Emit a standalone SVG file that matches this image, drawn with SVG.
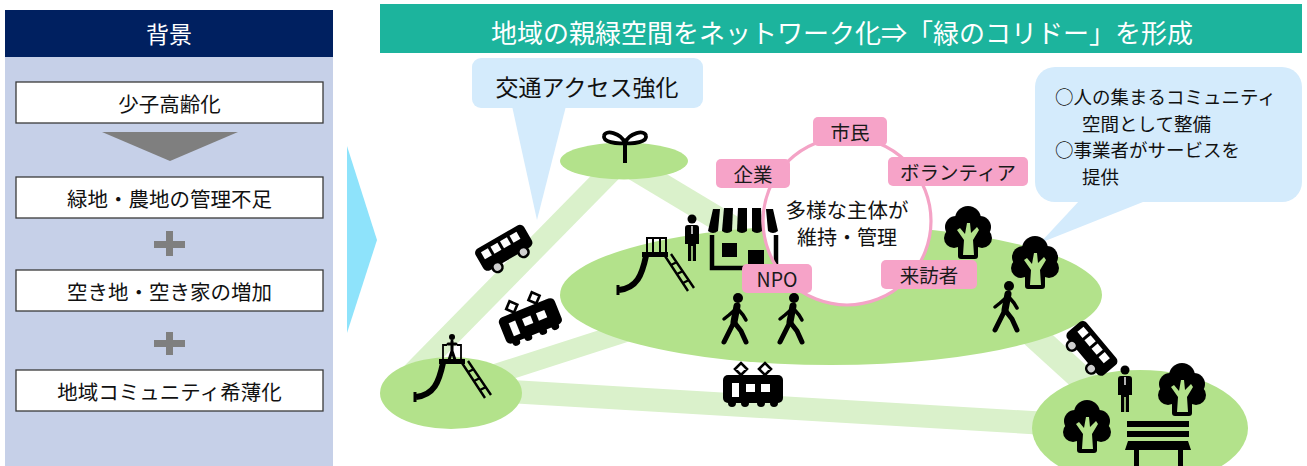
<svg xmlns="http://www.w3.org/2000/svg" width="1307" height="466" viewBox="0 0 1307 466">
  <style>
    text { font-family: "Noto Sans CJK JP", "Noto Sans", sans-serif; }
    .cause { fill: #ffffff; stroke: #3a3a3a; stroke-width: 1.3; }
    .cause-t { font-size: 20.5px; fill: #111; text-anchor: middle; dominant-baseline: central; }
    .gray { fill: #7f7f7f; }
    .corr { stroke: #daf1cb; fill: none; stroke-linecap: butt; }
    .park { fill: #b3e28b; }
    .bubble { fill: #d4ebfc; }
    .tag { fill: #f6a3c8; }
    .tag-t { font-size: 19.5px; fill: #1a1a1a; text-anchor: middle; dominant-baseline: central; }
    .note { font-size: 18.5px; fill: #111; }
  </style>
  <defs>
    <!-- side view bus, facing right -->
    <g id="bus">
      <rect x="-28" y="-15" width="56" height="25" rx="5" fill="#000"/>
      <rect x="-22" y="-10" width="8" height="8" fill="#fff"/>
      <rect x="-11" y="-10" width="8" height="8" fill="#fff"/>
      <rect x="0" y="-10" width="8" height="8" fill="#fff"/>
      <rect x="11" y="-10" width="8" height="8" fill="#fff"/>
      <circle cx="-15" cy="11" r="5" fill="#cfcfcf" stroke="#000" stroke-width="2.6"/>
      <circle cx="15" cy="11" r="5" fill="#cfcfcf" stroke="#000" stroke-width="2.6"/>
    </g>
    <!-- tram with two pantographs -->
    <g id="tram">
      <path d="M-12,-13 L-18,-19 L-12,-25 L-6,-19 Z M12,-13 L6,-19 L12,-25 L18,-19 Z" fill="none" stroke="#000" stroke-width="2.6"/>
      <rect x="-30" y="-13" width="60" height="28" rx="5" fill="#000"/>
      <circle cx="-21" cy="15" r="4" fill="#000"/>
      <circle cx="-8" cy="15" r="4" fill="#000"/>
      <circle cx="8" cy="15" r="4" fill="#000"/>
      <circle cx="21" cy="15" r="4" fill="#000"/>
      <rect x="-21" y="-5" width="7" height="14" fill="#fff"/>
      <rect x="-7" y="-4" width="9" height="8" fill="#fff"/>
      <rect x="8" y="-4" width="9" height="8" fill="#fff"/>
    </g>
    <!-- tree: dark crown, light trunk -->
    <g id="tree">
      <circle cx="0" cy="-14" r="13" fill="#000"/>
      <circle cx="-12" cy="-6" r="11" fill="#000"/>
      <circle cx="12" cy="-6" r="11" fill="#000"/>
      <circle cx="-14" cy="5" r="10" fill="#000"/>
      <circle cx="14" cy="5" r="10" fill="#000"/>
      <circle cx="0" cy="4" r="14" fill="#000"/>
      <rect x="-10" y="10" width="20" height="16" rx="3" fill="#000"/>
      <path d="M-5,22 L-4,7 L-11,-3 L-8,-5 L-3,1 L-1,-10 L2,-10 L3,0 L9,-6 L11,-3 L5,7 L6,22 Z" fill="#b3e28b"/>
    </g>
    <!-- walking pictogram -->
    <g id="walker">
      <circle cx="3" cy="-20" r="5" fill="#000"/>
      <path d="M2,-12 L-1,4" stroke="#000" stroke-width="7" stroke-linecap="round" fill="none"/>
      <path d="M2,-10 L-6,-3 L-11,1 M2,-10 L8,-3 L11,2" stroke="#000" stroke-width="3.5" stroke-linecap="round" stroke-linejoin="round" fill="none"/>
      <path d="M-1,4 L-6,14 L-11,24 M-1,4 L6,13 L11,24" stroke="#000" stroke-width="5" stroke-linecap="round" stroke-linejoin="round" fill="none"/>
    </g>
    <!-- man in a suit -->
    <g id="suit">
      <circle cx="0" cy="-19" r="4.5" fill="#000"/>
      <path d="M-7,-10 Q-7,-13 -4,-13 L4,-13 Q7,-13 7,-10 L7,6 L4,6 L4,23 L0.8,23 L0.8,8 L-0.8,8 L-0.8,23 L-4,23 L-4,6 L-7,6 Z" fill="#000"/>
      <path d="M0,-12 L0,-4" stroke="#fff" stroke-width="1.4"/>
    </g>
    <!-- slide with ladder, origin at the platform -->
    <g id="slide-base">
      <rect x="-13" y="-3" width="26" height="5" fill="#000"/>
      <path d="M-9,1 C-13,20 -18,33 -36,35" stroke="#000" stroke-width="6" fill="none"/>
      <path d="M-37,30 L-37,40" stroke="#000" stroke-width="3"/>
      <path d="M10,1 L33,36 M16,-1 L39,33" stroke="#000" stroke-width="2.4" fill="none"/>
      <path d="M16,10 L22,7 M22,19 L28,16 M28,28 L34,25" stroke="#000" stroke-width="2.4"/>
    </g>
  </defs>

  <!-- background causes panel -->
  <g id="background-panel">
    <rect x="5" y="57" width="328" height="409" fill="#c6d0e8"/>
    <rect x="5" y="10" width="328" height="47" fill="#002060"/>
    <text x="169" y="33" font-size="23" fill="#fff" text-anchor="middle" dominant-baseline="central">背景</text>
  </g>
  <g id="cause-aging">
    <rect class="cause" x="16" y="82" width="307" height="41"/>
    <text class="cause-t" x="169.5" y="102.5">少子高齢化</text>
  </g>
  <polygon class="gray" points="102,132 238,132 170,161"/>
  <g id="cause-greenland">
    <rect class="cause" x="16" y="177" width="307" height="41"/>
    <text class="cause-t" x="169.5" y="197.5">緑地・農地の管理不足</text>
  </g>
  <path class="gray" d="M166,231 h7 v10 h12 v7 h-12 v8 h-7 v-8 h-12 v-7 h12 Z"/>
  <g id="cause-vacancy">
    <rect class="cause" x="16" y="270" width="307" height="41"/>
    <text class="cause-t" x="169.5" y="290.5">空き地・空き家の増加</text>
  </g>
  <path class="gray" d="M166,332 h7 v8 h12 v7 h-12 v8 h-7 v-8 h-12 v-7 h12 Z"/>
  <g id="cause-community">
    <rect class="cause" x="16" y="370" width="307" height="41"/>
    <text class="cause-t" x="169.5" y="390.5">地域コミュニティ希薄化</text>
  </g>

  <!-- transition arrow -->
  <polygon points="347,146 377,240 347,333" fill="#8ee3fb"/>

  <!-- title band -->
  <g id="title">
    <rect x="380" y="4" width="922" height="49" fill="#1cb49d"/>
    <text x="842" y="31" font-size="26" fill="#fff" text-anchor="middle" dominant-baseline="central">地域の親緑空間をネットワーク化⇒「緑のコリドー」を形成</text>
  </g>

  <!-- green corridors linking the parks -->
  <g id="corridors">
    <path class="corr" d="M617,165 L401,385" stroke-width="22"/>
    <path class="corr" d="M625,163 L740,232" stroke-width="24"/>
    <path class="corr" d="M455,387 L660,321" stroke-width="20"/>
    <path class="corr" d="M451,388 L1140,429" stroke-width="23"/>
    <path class="corr" d="M1015,318 L1105,400" stroke-width="26"/>
  </g>

  <!-- parks -->
  <g id="park-sprout">
    <ellipse class="park" cx="624" cy="161" rx="64" ry="18.5"/>
    <path d="M625,143 C621,133 605,129 604,136 C603,142 616,144 625,143 Z M625,143 C629,133 645,129 646,136 C647,142 634,144 625,143 Z" fill="none" stroke="#000" stroke-width="3.8" stroke-linejoin="round"/>
    <path d="M625,143 L625,163" stroke="#000" stroke-width="4"/>
  </g>
  <g id="park-central">
    <ellipse class="park" cx="831" cy="295" rx="271" ry="70"/>
  </g>
  <g id="park-west">
    <ellipse class="park" cx="451" cy="393" rx="71" ry="36"/>
  </g>
  <g id="park-east">
    <ellipse class="park" cx="1140" cy="428" rx="108" ry="58"/>
  </g>

  <!-- speech bubbles -->
  <g id="callout-transport">
    <rect class="bubble" x="472" y="58" width="231" height="50" rx="9"/>
    <polygon class="bubble" points="512,106 566,106 537,220"/>
    <text x="587" y="86" font-size="23" fill="#111" text-anchor="middle" dominant-baseline="central">交通アクセス強化</text>
  </g>
  <g id="callout-community">
    <rect class="bubble" x="1035" y="67" width="267" height="135" rx="20"/>
    <polygon class="bubble" points="1080,200 1148,200 1040,243"/>
    <text class="note" x="1055" y="104">○人の集まるコミュニティ</text>
    <text class="note" x="1082" y="131">空間として整備</text>
    <text class="note" x="1055" y="157">○事業者がサービスを</text>
    <text class="note" x="1082" y="184">提供</text>
  </g>

  <!-- stakeholder ring backdrop -->
  <circle cx="847" cy="221" r="84" fill="#fff"/>

  <!-- pictograms -->
  <g id="icons">
    <use href="#bus" transform="translate(505,250) rotate(-30)"/>
    <use href="#bus" transform="translate(1090,350) rotate(50)"/>
    <use href="#tram" transform="translate(530,320) rotate(-22)"/>
    <use href="#tram" transform="translate(753,388)"/>

    <!-- slide in the central park -->
    <g transform="translate(655,255)">
      <rect x="-8" y="-17" width="19" height="15" fill="none" stroke="#000" stroke-width="2"/>
      <path d="M-2,-17 V-2 M5,-17 V-2" stroke="#000" stroke-width="2"/>
      <use href="#slide-base"/>
    </g>
    <!-- slide with a child on top in the west park -->
    <g transform="translate(452,362)">
      <circle cx="0" cy="-25" r="3" fill="#000"/>
      <path d="M0,-21 L0,-11 M-4,-18 L4,-18 M0,-11 L-3,-2 M0,-11 L3,-2" stroke="#000" stroke-width="3" stroke-linecap="round" fill="none"/>
      <path d="M-9,-2 V-17 H-5 M9,-2 V-17 H5" stroke="#000" stroke-width="1.8" fill="none"/>
      <use href="#slide-base"/>
    </g>

    <!-- shop -->
    <g id="shop">
      <path d="M712,235 V268 H776 V235" fill="none" stroke="#000" stroke-width="4.5"/>
      <rect x="722" y="243" width="15" height="14" fill="#000"/>
      <rect x="748" y="250" width="16" height="14" fill="#000"/>
      <path d="M713,209 L720,209 L718,231 Q713,235 708,231 Z" fill="#000"/>
      <path d="M724,208 L733,208 L732,231 Q727,235 722,231 Z" fill="#000"/>
      <path d="M738,208 L747,208 L747,231 Q742,235 737,231 Z" fill="#000"/>
      <path d="M752,208 L761,208 L762,231 Q757,235 752,231 Z" fill="#000"/>
      <path d="M766,209 L773,209 L778,231 Q773,235 768,231 Z" fill="#000"/>
    </g>

    <use href="#suit" transform="translate(692,238)"/>
    <use href="#suit" transform="translate(1125,389)"/>

    <use href="#walker" transform="translate(735,318)"/>
    <use href="#walker" transform="translate(791,318)"/>
    <use href="#walker" transform="translate(1006,306)"/>

    <use href="#tree" transform="translate(968,233)"/>
    <use href="#tree" transform="translate(1035,263)"/>
    <use href="#tree" transform="translate(1087,427)"/>
    <use href="#tree" transform="translate(1182,390)"/>

    <!-- bench -->
    <g id="bench">
      <rect x="1127" y="421" width="62" height="6" fill="#000"/>
      <rect x="1127" y="431" width="62" height="6" fill="#000"/>
      <path d="M1128,441 L1188,441 L1191,450 L1125,450 Z" fill="#000"/>
      <rect x="1134" y="450" width="5" height="16" fill="#000"/>
      <rect x="1178" y="450" width="5" height="16" fill="#000"/>
    </g>
  </g>

  <!-- stakeholder ring -->
  <g id="stakeholders">
    <circle cx="847" cy="221" r="84" fill="none" stroke="#f4a3c6" stroke-width="3.2"/>
    <text x="847" y="209" font-size="20.5" fill="#111" text-anchor="middle" dominant-baseline="central">多様な主体が</text>
    <text x="847" y="236" font-size="20" fill="#111" text-anchor="middle" dominant-baseline="central">維持・管理</text>
  </g>
  <g id="tag-citizens">
    <rect class="tag" x="813" y="117" width="74" height="29" rx="5"/>
    <text class="tag-t" x="850" y="131.5">市民</text>
  </g>
  <g id="tag-companies">
    <rect class="tag" x="716" y="159" width="74" height="29" rx="5"/>
    <text class="tag-t" x="753" y="173.5">企業</text>
  </g>
  <g id="tag-volunteers">
    <rect class="tag" x="888" y="157" width="140" height="29" rx="5"/>
    <text class="tag-t" x="958" y="171.5">ボランティア</text>
  </g>
  <g id="tag-npo">
    <rect class="tag" x="742" y="264" width="70" height="29" rx="5"/>
    <text class="tag-t" x="777" y="278.5">NPO</text>
  </g>
  <g id="tag-visitors">
    <rect class="tag" x="881" y="260" width="96" height="29" rx="5"/>
    <text class="tag-t" x="929" y="274.5">来訪者</text>
  </g>
</svg>
